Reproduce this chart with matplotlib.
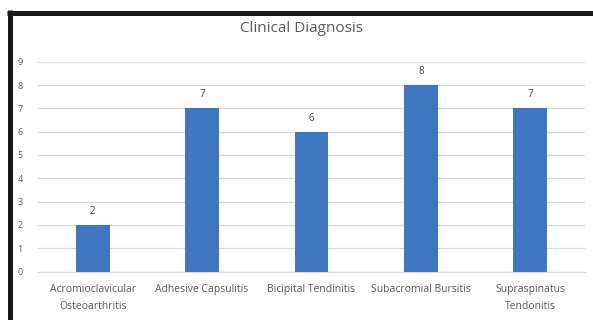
import matplotlib
matplotlib.use("Agg")
import matplotlib.pyplot as plt
from matplotlib.lines import Line2D

categories = ["Acromioclavicular\nOsteoarthritis", "Adhesive Capsulitis",
              "Bicipital Tendinitis", "Subacromial Bursitis",
              "Supraspinatus\nTendonitis"]
values = [2, 7, 6, 8, 7]
yticks = list(range(0, 10))
title = "Clinical Diagnosis"

W, H = 593, 320
fig = plt.figure(figsize=(W / 100, H / 100), dpi=100)
plt.rcParams['font.family'] = ['Open Sans', 'DejaVu Sans']

ax = fig.add_axes([38 / W, (H - 271.5) / H, (585 - 38) / W, (271.5 - 61.8) / H])
x = list(range(len(categories)))
bars = ax.bar(x, values, width=0.31, color="#3F76C0", zorder=3)
for xi, v in zip(x, values):
    ax.text(xi, v + 0.35, str(v), ha="center", va="bottom", fontsize=7, color="#404040")

ax.set_xlim(-0.5, len(categories) - 0.5)
ax.set_ylim(0, 9)
ax.set_yticks(yticks)
ax.set_yticklabels([str(t) for t in yticks], fontsize=6.5, color="#595959")
ax.set_xticks(x)
ax.set_xticklabels(categories, fontsize=7.5, color="#595959", linespacing=1.8)
ax.tick_params(axis="both", length=0)
ax.tick_params(axis="y", pad=11)
ax.tick_params(axis="x", pad=9)
ax.grid(axis="y", color="#D9D9D9", linewidth=0.9, zorder=0)
for s in ["top", "right", "left"]:
    ax.spines[s].set_visible(False)
ax.spines["bottom"].set_color("#D9D9D9")
ax.spines["bottom"].set_linewidth(0.9)

fig.text(302 / W, 1 - 28 / H, title, ha="center", va="center", fontsize=11, color="#595959")

# black frame (top and left)
lw = 5 * 72 / 100
fig.add_artist(Line2D([7 / W, 1], [1 - 12.5 / H, 1 - 12.5 / H], color="#1a1a1a", linewidth=lw,
                      transform=fig.transFigure, solid_capstyle="butt"))
fig.add_artist(Line2D([9.5 / W, 9.5 / W], [1 - 10 / H, 0], color="#1a1a1a", linewidth=lw,
                      transform=fig.transFigure, solid_capstyle="butt"))

fig.savefig("out.png", dpi=100)
